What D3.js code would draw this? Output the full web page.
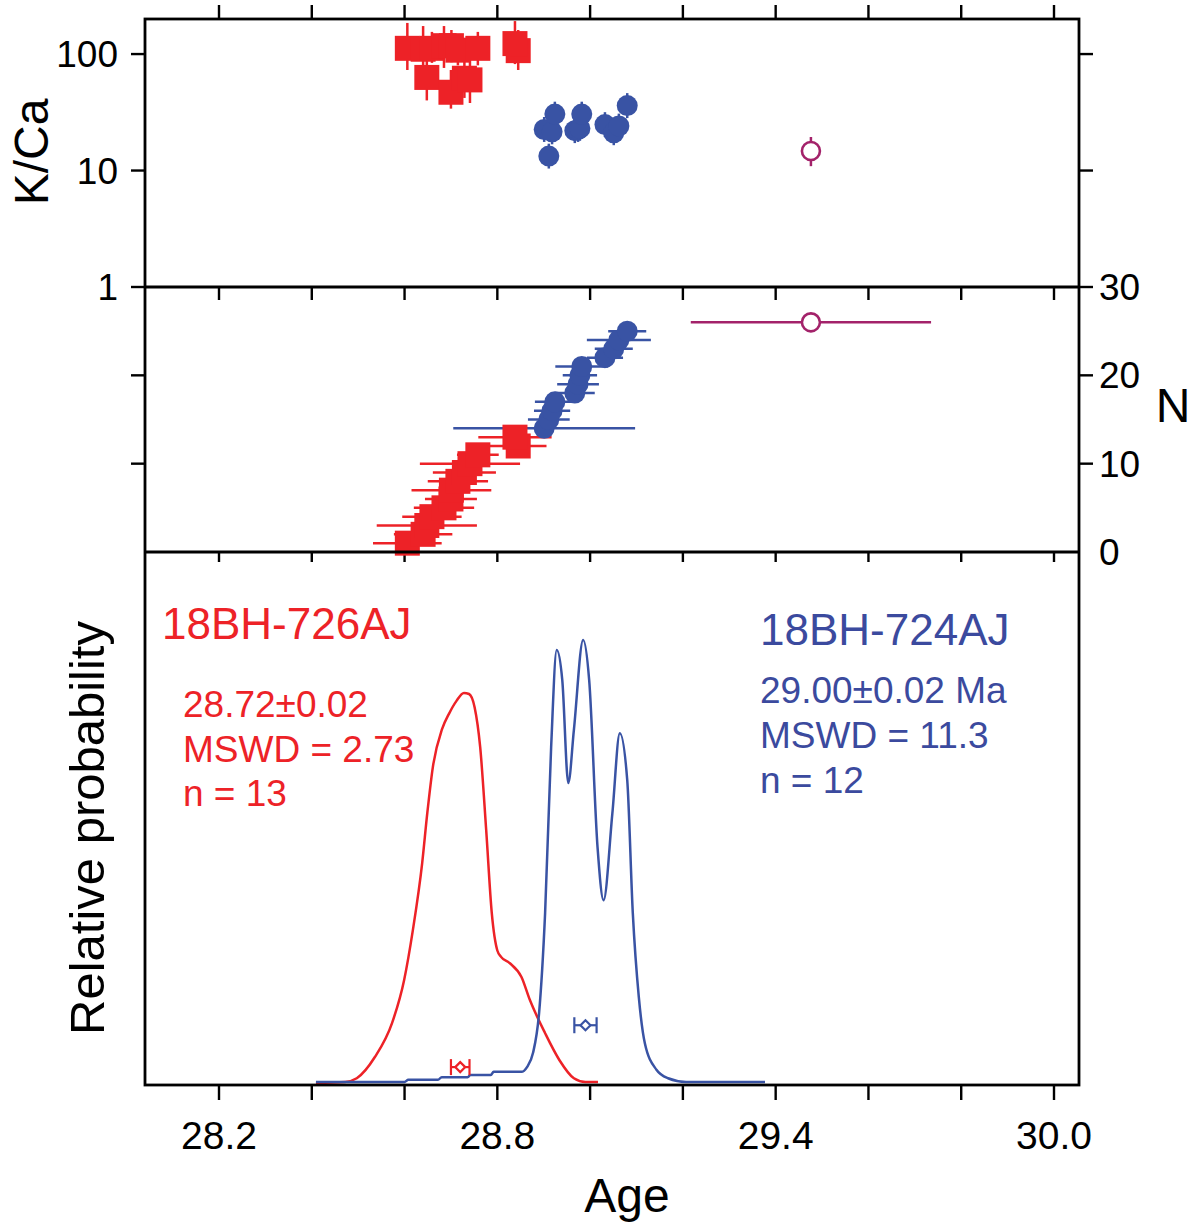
<!DOCTYPE html>
<html>
<head>
<meta charset="utf-8">
<script src="https://cdn.jsdelivr.net/npm/d3@7"></script>
<style>
  body { margin: 0; background: #fff; }
  text { font-family: "Liberation Sans", Arial, Helvetica, sans-serif; }
</style>
</head>
<body>
<div id="chart"></div>
<script>
// ---- data ----
// 18BH-726AJ (red squares), N = 1..13
var redAge    = [28.606, 28.640, 28.648, 28.659, 28.685, 28.700, 28.701, 28.715, 28.729, 28.741, 28.758, 28.845, 28.838];
var redAgeErr = [0.074, 0.063, 0.108, 0.064, 0.065, 0.056, 0.086, 0.065, 0.068, 0.108, 0.045, 0.061, 0.079];
var redKca    = [112, 110, 63, 112, 118, 47, 118, 108, 62, 60, 112, 107, 123];
var redKcaLo  = [73, 76, 40, 84, 76, 34, 85, 80, 42, 38, 80, 73, 82];
var redKcaHi  = [185, 174, 98, 155, 174, 73, 161, 146, 92, 89, 155, 161, 192];

// 18BH-724AJ (blue circles), N = 14..25
var blueAge    = [28.901, 28.911, 28.918, 28.924, 28.967, 28.974, 28.978, 28.982, 29.032, 29.051, 29.062, 29.080];
var blueAgeErr = [0.196, 0.045, 0.039, 0.043, 0.043, 0.045, 0.037, 0.057, 0.039, 0.041, 0.069, 0.041];
var blueKca    = [22.5, 13.3, 21.5, 30.5, 22.0, 22.5, 23.0, 30.5, 24.8, 21.1, 24.1, 36.1];
var blueKcaLo  = [17.6, 10.4, 16.8, 23.8, 17.2, 17.6, 18.0, 23.8, 19.4, 16.5, 18.8, 28.2];
var blueKcaHi  = [28.8, 17.0, 27.5, 39.0, 28.2, 28.8, 29.4, 39.0, 31.7, 27.0, 30.8, 46.2];

// excluded grain (open circle), N = 26
var outAge = [29.476], outAgeErr = [0.259], outKca = [14.7], outKcaLo = [10.9], outKcaHi = [19.4];

// probability curves [age, relative probability]
var redCurve = [[28.409,0],[28.472,0.002],[28.497,0.009],[28.536,0.049],[28.573,0.113],[28.599,0.194],
  [28.618,0.289],[28.638,0.415],[28.649,0.509],[28.661,0.596],[28.681,0.668],[28.696,0.697],[28.712,0.721],
  [28.728,0.736],[28.739,0.734],[28.751,0.709],[28.763,0.634],[28.776,0.477],[28.788,0.321],[28.800,0.250],
  [28.808,0.238],[28.827,0.226],[28.852,0.2],[28.870,0.157],[28.903,0.094],[28.934,0.043],[28.965,0.009],
  [28.990,0.002],[29.017,0.002]];
var blueCurve = [[28.409,0.002],[28.600,0.002],[28.608,0.006],[28.672,0.006],[28.680,0.011],[28.736,0.011],
  [28.742,0.015],[28.786,0.015],[28.792,0.021],[28.852,0.021],[28.864,0.03],[28.877,0.057],[28.890,0.132],
  [28.903,0.321],[28.916,0.634],[28.928,0.817],[28.940,0.760],[28.953,0.566],[28.965,0.666],[28.985,0.836],
  [28.998,0.760],[29.016,0.445],[29.029,0.345],[29.048,0.509],[29.064,0.660],[29.080,0.572],[29.092,0.321],
  [29.105,0.162],[29.118,0.075],[29.143,0.025],[29.168,0.009],[29.207,0.002],[29.377,0.002]];

// weighted means: [age, err, height on probability axis]
var redMean  = [28.720, 0.020, 0.03];
var blueMean = [28.990, 0.024, 0.109];

var ageTicks = [28.2, 28.4, 28.6, 28.8, 29.0, 29.2, 29.4, 29.6, 29.8, 30.0];
var ageLabels = [28.2, 28.8, 29.4, 30.0];
var kcaTicks = [1, 10, 100];
var nTicks = [0, 10, 20, 30];

var RED = "#ed2227", BLUE = "#3953a4", BLUE_TXT = "#3b4a9e", PURPLE = "#a3226a";

// ---- layout ----
var W = 1196, H = 1228;
var L = 145, R = 1079, T1 = 19, B1 = 287, B2 = 552, B3 = 1085;

var svg = d3.select("#chart").append("svg").attr("width", W).attr("height", H);

var x = d3.scaleLinear().domain([28.2, 30.0]).range([219, 1054]);
var yK = d3.scaleLog().domain([1, 200]).range([B1, T1]);
var yN = d3.scaleLinear().domain([0, 30]).range([B2, B1]);
var yP = d3.scaleLinear().domain([0, 1]).range([1083, 553]);

// ---- ticks ----
var tickG = svg.append("g").attr("stroke", "#000").attr("stroke-width", 2.4);
function hTicks(yy, dir, len) {
  tickG.selectAll(null).data(ageTicks).enter().append("line")
    .attr("x1", d => x(d)).attr("x2", d => x(d))
    .attr("y1", yy).attr("y2", yy + dir * len);
}
hTicks(T1, -1, 14);
hTicks(B1, 1, 13);
hTicks(B2, 1, 10);
hTicks(B3, 1, 15);

tickG.selectAll(null).data(kcaTicks).enter().append("line")
  .attr("x1", L - 14).attr("x2", L).attr("y1", d => yK(d)).attr("y2", d => yK(d));
tickG.selectAll(null).data([10, 100]).enter().append("line")
  .attr("x1", R).attr("x2", R + 14).attr("y1", d => yK(d)).attr("y2", d => yK(d));
tickG.selectAll(null).data([10, 20]).enter().append("line")
  .attr("x1", L - 14).attr("x2", L).attr("y1", d => yN(d)).attr("y2", d => yN(d));
tickG.selectAll(null).data([10, 20, 30]).enter().append("line")
  .attr("x1", R).attr("x2", R + 14).attr("y1", d => yN(d)).attr("y2", d => yN(d));

// tick labels
svg.selectAll(null).data(kcaTicks).enter().append("text")
  .attr("x", 118).attr("y", d => yK(d) + 13).attr("text-anchor", "end")
  .attr("font-size", 37).text(d => d);
svg.selectAll(null).data(nTicks).enter().append("text")
  .attr("x", 1099).attr("y", d => yN(d) + 13)
  .attr("font-size", 37).text(d => d);
svg.selectAll(null).data(ageLabels).enter().append("text")
  .attr("x", d => x(d)).attr("y", 1149).attr("text-anchor", "middle")
  .attr("font-size", 39).text(d => d.toFixed(1));

// axis titles
svg.append("text").attr("transform", "translate(48,152) rotate(-90)")
  .attr("text-anchor", "middle").attr("font-size", 48).text("K/Ca");
svg.append("text").attr("x", 1173).attr("y", 422).attr("text-anchor", "middle")
  .attr("font-size", 48).text("N");
svg.append("text").attr("transform", "translate(104,828) rotate(-90)")
  .attr("text-anchor", "middle").attr("font-size", 49).text("Relative probability");
svg.append("text").attr("x", 627).attr("y", 1212).attr("text-anchor", "middle")
  .attr("font-size", 48).text("Age");

// ---- top panel: K/Ca ----
var topG = svg.append("g");
var redPts = redAge.map((a, i) => ({age: a, err: redAgeErr[i], k: redKca[i], lo: redKcaLo[i], hi: redKcaHi[i], n: i + 1}));
var bluePts = blueAge.map((a, i) => ({age: a, err: blueAgeErr[i], k: blueKca[i], lo: blueKcaLo[i], hi: blueKcaHi[i], n: i + 14}));
var outPts = outAge.map((a, i) => ({age: a, err: outAgeErr[i], k: outKca[i], lo: outKcaLo[i], hi: outKcaHi[i], n: 26}));

function kBars(pts, col) {
  topG.selectAll(null).data(pts).enter().append("line")
    .attr("x1", d => x(d.age)).attr("x2", d => x(d.age))
    .attr("y1", d => yK(d.lo)).attr("y2", d => yK(d.hi))
    .attr("stroke", col).attr("stroke-width", 2.5);
}
kBars(redPts, RED); kBars(bluePts, BLUE); kBars(outPts, PURPLE);
topG.selectAll(null).data(redPts).enter().append("rect")
  .attr("x", d => x(d.age) - 12.5).attr("y", d => yK(d.k) - 12.5)
  .attr("width", 25).attr("height", 25).attr("fill", RED);
topG.selectAll(null).data(bluePts).enter().append("circle")
  .attr("cx", d => x(d.age)).attr("cy", d => yK(d.k)).attr("r", 10.5).attr("fill", BLUE);
topG.selectAll(null).data(outPts).enter().append("circle")
  .attr("cx", d => x(d.age)).attr("cy", d => yK(d.k)).attr("r", 9)
  .attr("fill", "#fff").attr("stroke", PURPLE).attr("stroke-width", 2.6);

// ---- middle panel: age vs N ----
var midG = svg.append("g");
function nBars(pts, col) {
  midG.selectAll(null).data(pts).enter().append("line")
    .attr("x1", d => x(d.age - d.err)).attr("x2", d => x(d.age + d.err))
    .attr("y1", d => yN(d.n)).attr("y2", d => yN(d.n))
    .attr("stroke", col).attr("stroke-width", 2.5);
}
nBars(redPts, RED); nBars(bluePts, BLUE); nBars(outPts, PURPLE);
midG.selectAll(null).data(redPts).enter().append("rect")
  .attr("x", d => x(d.age) - 12.5).attr("y", d => yN(d.n) - 12.5)
  .attr("width", 25).attr("height", 25).attr("fill", RED);
midG.selectAll(null).data(bluePts).enter().append("circle")
  .attr("cx", d => x(d.age)).attr("cy", d => yN(d.n)).attr("r", 10.5).attr("fill", BLUE);
midG.selectAll(null).data(outPts).enter().append("circle")
  .attr("cx", d => x(d.age)).attr("cy", d => yN(d.n)).attr("r", 9)
  .attr("fill", "#fff").attr("stroke", PURPLE).attr("stroke-width", 2.6);

// ---- bottom panel: probability curves ----
var botG = svg.append("g");
var line = d3.line().x(d => x(d[0])).y(d => yP(d[1])).curve(d3.curveMonotoneX);
botG.append("path").attr("d", line(redCurve)).attr("fill", "none")
  .attr("stroke", RED).attr("stroke-width", 2.5);
botG.append("path").attr("d", line(blueCurve)).attr("fill", "none")
  .attr("stroke", BLUE).attr("stroke-width", 2.5);

function meanMark(m, col) {
  var g = botG.append("g").attr("stroke", col).attr("stroke-width", 2.2).attr("fill", "none");
  var y0 = yP(m[2]), xa = x(m[0] - m[1]), xb = x(m[0] + m[1]), xc = x(m[0]);
  g.append("line").attr("x1", xa).attr("x2", xb).attr("y1", y0).attr("y2", y0);
  g.append("line").attr("x1", xa).attr("x2", xa).attr("y1", y0 - 8).attr("y2", y0 + 8);
  g.append("line").attr("x1", xb).attr("x2", xb).attr("y1", y0 - 8).attr("y2", y0 + 8);
  g.append("path").attr("d", `M${xc - 5},${y0} L${xc},${y0 - 5} L${xc + 5},${y0} L${xc},${y0 + 5} Z`)
    .attr("fill", "#fff");
}
meanMark(redMean, RED);
meanMark(blueMean, BLUE);

// annotations
var ann = svg.append("g");
ann.append("text").attr("x", 162).attr("y", 639).attr("font-size", 44).attr("fill", RED).text("18BH-726AJ");
[["28.72±0.02", 717], ["MSWD = 2.73", 762], ["n = 13", 806]].forEach(function (t) {
  ann.append("text").attr("x", 183).attr("y", t[1]).attr("font-size", 37).attr("fill", RED).text(t[0]);
});
ann.append("text").attr("x", 760).attr("y", 645).attr("font-size", 44).attr("fill", BLUE_TXT).text("18BH-724AJ");
[["29.00±0.02 Ma", 703], ["MSWD = 11.3", 748], ["n = 12", 793]].forEach(function (t) {
  ann.append("text").attr("x", 760).attr("y", t[1]).attr("font-size", 37).attr("fill", BLUE_TXT).text(t[0]);
});

// ---- frame ----
var fr = svg.append("g").attr("stroke", "#000").attr("stroke-width", 2.8).attr("fill", "none");
fr.append("rect").attr("x", L).attr("y", T1).attr("width", R - L).attr("height", B3 - T1);
fr.append("line").attr("x1", L).attr("x2", R).attr("y1", B1).attr("y2", B1);
fr.append("line").attr("x1", L).attr("x2", R).attr("y1", B2).attr("y2", B2);
</script>
</body>
</html>
